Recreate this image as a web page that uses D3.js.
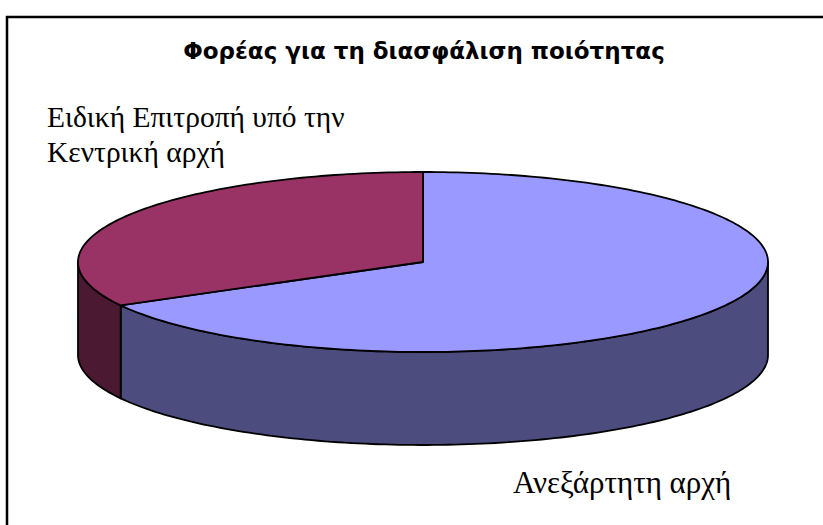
<!DOCTYPE html>
<html>
<head>
<meta charset="utf-8">
<script src="https://cdn.jsdelivr.net/npm/d3@7"></script>
<style>
  html, body { margin: 0; padding: 0; background: #fff; }
</style>
</head>
<body>
<div id="chart"></div>
<script>
const categories = ["Ανεξάρτητη αρχή", "Ειδική Επιτροπή υπό την Κεντρική αρχή"];
const values = [67, 33];
const topColors = ["#9999ff", "#993366"];
const sideColors = ["#4c4c7f", "#4c1933"];

const width = 823;
const height = 525;

const svg = d3.select("#chart")
  .append("svg")
  .attr("width", width)
  .attr("height", height);

// frame (cut off at right and bottom like the source)
svg.append("path")
  .attr("d", `M7,${height + 5} L7,17 L${width + 5},17`)
  .attr("fill", "none")
  .attr("stroke", "#000")
  .attr("stroke-width", 2.5);

svg.append("text")
  .attr("x", 424)
  .attr("y", 59)
  .attr("text-anchor", "middle")
  .style("font-family", "'DejaVu Sans', Verdana, sans-serif")
  .style("font-weight", "bold")
  .style("font-size", "23px")
  .text("Φορέας για τη διασφάλιση ποιότητας");

// 3D pie geometry
const cx = 423, cy = 262, rx = 345, ry = 90, depth = 93;

const pie = d3.pie().sort(null).value(d => d);
const arcs = pie(values);

const pt = (a, dy) => [cx + rx * Math.sin(a), cy - ry * Math.cos(a) + dy];

function edge(a0, a1, dy) {
  const n = Math.max(2, Math.ceil(Math.abs(a1 - a0) / 0.02));
  return d3.range(n + 1).map(i => pt(a0 + (a1 - a0) * i / n, dy));
}

const line = d3.line();
const g = svg.append("g");

// outer walls, only the front half (pi/2 .. 3pi/2)
arcs.forEach((d, i) => {
  const a0 = Math.max(d.startAngle, Math.PI / 2);
  const a1 = Math.min(d.endAngle, 3 * Math.PI / 2);
  if (a1 <= a0) return;
  const pts = edge(a0, a1, 0).concat(edge(a1, a0, depth));
  g.append("path")
    .attr("d", line(pts) + "Z")
    .attr("fill", sideColors[i])
    .attr("stroke", "#000")
    .attr("stroke-width", 1.8)
    .attr("stroke-linejoin", "round");
});

// tops
arcs.forEach((d, i) => {
  const pts = [[cx, cy]].concat(edge(d.startAngle, d.endAngle, 0));
  g.append("path")
    .attr("d", line(pts) + "Z")
    .attr("fill", topColors[i])
    .attr("stroke", "#000")
    .attr("stroke-width", 1.8)
    .attr("stroke-linejoin", "round");
});

// labels
const labelFont = "'Times New Roman', 'Liberation Serif', serif";
svg.append("text")
  .attr("x", 513)
  .attr("y", 493)
  .style("font-family", labelFont)
  .style("font-size", "31px")
  .text(categories[0]);

const lbl = svg.append("text")
  .attr("x", 47)
  .attr("y", 127)
  .style("font-family", labelFont)
  .style("font-size", "29.5px");
lbl.append("tspan").attr("x", 47).text("Ειδική Επιτροπή υπό την");
lbl.append("tspan").attr("x", 47).attr("dy", 35).text("Κεντρική αρχή");
</script>
</body>
</html>
